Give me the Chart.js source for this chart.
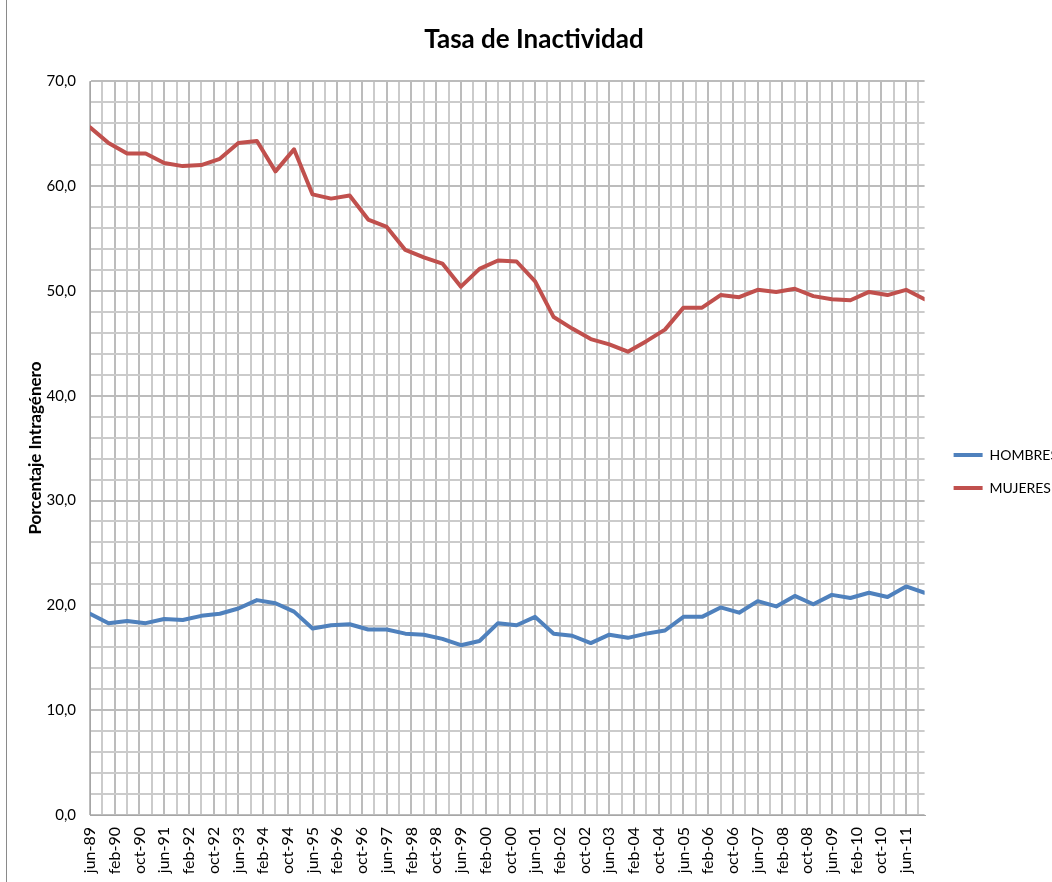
<!DOCTYPE html>
<html>
<head>
<meta charset="utf-8">
<script src="https://cdn.jsdelivr.net/npm/chart.js@4.4.0/dist/chart.umd.min.js"></script>
<style>
html,body{margin:0;padding:0;overflow:hidden;background:#fff;width:1052px;height:882px}
#wrap{position:absolute;left:0;top:0;width:1068px;height:882px}
#edge{position:absolute;left:6px;top:0;width:1px;height:882px;background:#8a8a8a}
</style>
</head>
<body>
<div id="wrap"><canvas id="c" width="1068" height="882"></canvas></div>
<div id="edge"></div>
<script>
// Semiannual periods (month-year)
const periodos = [
  'jun-89','dic-89','jun-90','dic-90','jun-91','dic-91','jun-92','dic-92','jun-93','dic-93',
  'jun-94','dic-94','jun-95','dic-95','jun-96','dic-96','jun-97','dic-97','jun-98','dic-98',
  'jun-99','dic-99','jun-00','dic-00','jun-01','dic-01','jun-02','dic-02','jun-03','dic-03',
  'jun-04','dic-04','jun-05','dic-05','jun-06','dic-06','jun-07','dic-07','jun-08','dic-08',
  'jun-09','dic-09','jun-10','dic-10','jun-11','dic-11'
];
const hombres = [
  19.2,18.3,18.5,18.3,18.7,18.6,19.0,19.2,19.7,20.5,
  20.2,19.4,17.8,18.1,18.2,17.7,17.7,17.3,17.2,16.8,
  16.2,16.6,18.3,18.1,18.9,17.3,17.1,16.4,17.2,16.9,
  17.3,17.6,18.9,18.9,19.8,19.3,20.4,19.9,20.9,20.1,
  21.0,20.7,21.2,20.8,21.8,21.2
];
const mujeres = [
  65.6,64.1,63.1,63.1,62.2,61.9,62.0,62.6,64.1,64.3,
  61.4,63.5,59.2,58.8,59.1,56.8,56.1,53.9,53.2,52.6,
  50.4,52.1,52.9,52.8,50.9,47.5,46.4,45.4,44.9,44.2,
  45.2,46.3,48.4,48.4,49.6,49.4,50.1,49.9,50.2,49.5,
  49.2,49.1,49.9,49.6,50.1,49.2
];
// x-axis labels (every 8 months from jun-89)
const etiquetasX = [
  'jun-89','feb-90','oct-90','jun-91','feb-92','oct-92','jun-93','feb-94','oct-94','jun-95',
  'feb-96','oct-96','jun-97','feb-98','oct-98','jun-99','feb-00','oct-00','jun-01','feb-02',
  'oct-02','jun-03','feb-04','oct-04','jun-05','feb-06','oct-06','jun-07','feb-08','oct-08',
  'jun-09','feb-10','oct-10','jun-11'
];
const series = ['HOMBRES','MUJERES'];
const colores = ['#4F81BD','#C0504D'];

const meses = ['ene','feb','mar','abr','may','jun','jul','ago','sep','oct','nov','dic'];
function mesIndice(p){
  const parts = p.split('-');
  const yy = parseInt(parts[1],10);
  const year = yy < 50 ? 2000 + yy : 1900 + yy;
  return (year - 1989) * 12 + meses.indexOf(parts[0]) - 5;
}
const xs = periodos.map(mesIndice);
const toPts = arr => arr.map((v,i)=>({x: xs[i], y: v}));

Chart.defaults.font.family = 'Lato';
Chart.defaults.color = '#000';

const majorGrid = '#bcbcbc';
const minorGrid = '#cbcbcb';

new Chart(document.getElementById('c'), {
  type: 'line',
  data: {
    datasets: [
      {label: series[0], data: toPts(hombres), borderColor: colores[0], backgroundColor: colores[0],
       borderWidth: 4, pointRadius: 0, tension: 0, borderJoinStyle: 'round', borderCapStyle: 'round'},
      {label: series[1], data: toPts(mujeres), borderColor: colores[1], backgroundColor: colores[1],
       borderWidth: 4, pointRadius: 0, tension: 0, borderJoinStyle: 'round', borderCapStyle: 'round'}
    ]
  },
  options: {
    responsive: false,
    animation: false,
    devicePixelRatio: 1,
    layout: {padding: 0},
    plugins: {
      title: {
        display: true, text: 'Tasa de Inactividad', color: '#000',
        font: {size: 26, weight: 'bold', lineHeight: 1.2},
        padding: {top: 24, bottom: 26}
      },
      legend: {
        position: 'right',
        title: {display: true, text: ' ', font: {size: 10, lineHeight: 1}, padding: {top: 51, bottom: 0}},
        labels: {
          boxWidth: 29, boxHeight: 4, padding: 19, color: '#000',
          font: {size: 14},
          generateLabels(chart){
            const items = Chart.defaults.plugins.legend.labels.generateLabels(chart);
            items.forEach(it => { it.lineWidth = 0; it.fillStyle = it.strokeStyle; });
            return items;
          }
        }
      },
      tooltip: {enabled: false}
    },
    scales: {
      x: {
        type: 'linear', min: 0, max: 270,
        grid: {drawTicks: false, lineWidth: 2,
               color: c => (c.tick && c.tick.value % 8 === 0) ? majorGrid : minorGrid},
        border: {display: true, color: '#a6a6a6', width: 1},
        ticks: {
          stepSize: 4, autoSkip: false, includeBounds: false,
          maxRotation: 90, minRotation: 90, padding: 12,
          font: {size: 16},
          callback: v => (v % 8 === 0 && etiquetasX[v/8] !== undefined) ? etiquetasX[v/8] : ''
        },
        afterFit(s){ s.height = 67; }
      },
      y: {
        min: 0, max: 70,
        grid: {drawTicks: false, lineWidth: 2,
               color: c => (c.tick && c.tick.value % 10 === 0) ? majorGrid : minorGrid},
        border: {display: true, color: '#a6a6a6', width: 1},
        ticks: {
          stepSize: 2, autoSkip: false, padding: 14, font: {size: 15},
          callback: v => (v % 10 === 0) ? v.toFixed(1).replace('.', ',') : ''
        },
        title: {display: true, text: 'Porcentaje Intragénero', color: '#000',
                font: {size: 17, weight: 'bold', lineHeight: 1.2}, padding: {top: 25, bottom: 0}},
        afterFit(s){ s.width = 90; }
      },
      spacer: {
        type: 'linear', position: 'right', display: true,
        grid: {display: false, drawTicks: false},
        border: {display: false},
        ticks: {display: false},
        afterFit(s){ s.width = 10; }
      }
    }
  }
});
</script>
</body>
</html>
